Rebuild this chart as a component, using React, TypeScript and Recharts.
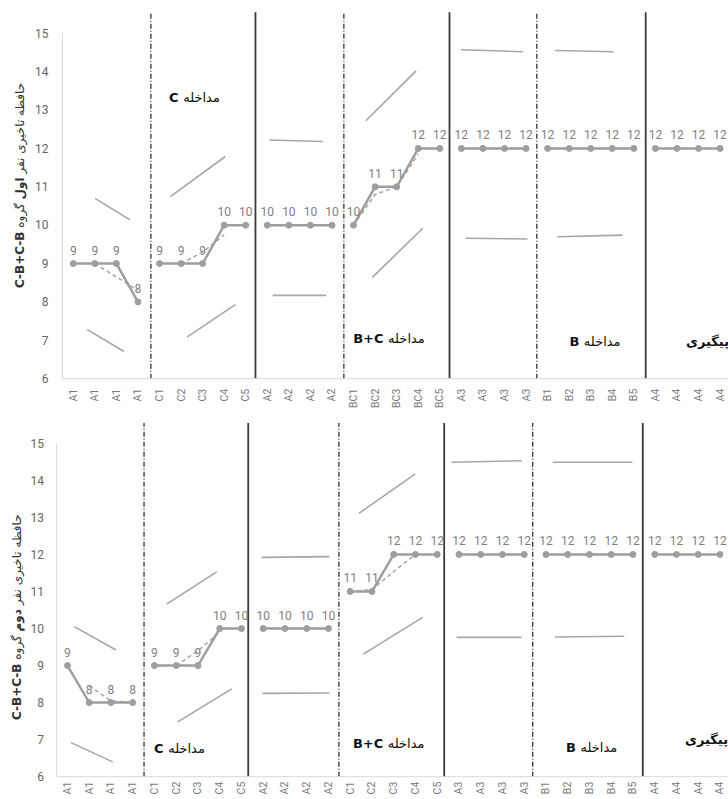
import React from "react";
import { LineChart, Line, XAxis, YAxis, ReferenceLine, LabelList } from "recharts";

// categories (x-axis tick labels)
const topCategories = [
  "A1", "A1", "A1", "A1", "C1", "C2", "C3", "C4", "C5", "A2", "A2", "A2", "A2",
  "BC1", "BC2", "BC3", "BC4", "BC5", "A3", "A3", "A3", "A3", "B1", "B2", "B3", "B4", "B5",
  "A4", "A4", "A4", "A4"
];
const bottomCategories = [
  "A1", "A1", "A1", "A1", "C1", "C2", "C3", "C4", "C5", "A2", "A2", "A2", "A2",
  "C1", "C2", "C3", "C4", "C5", "A3", "A3", "A3", "A3", "B1", "B2", "B3", "B4", "B5",
  "A4", "A4", "A4", "A4"
];

// observed scores
const topValues = [9, 9, 9, 8, 9, 9, 9, 10, 10, 10, 10, 10, 10, 10, 11, 11, 12, 12, 12, 12, 12, 12, 12, 12, 12, 12, 12, 12, 12, 12, 12];
const bottomValues = [9, 8, 8, 8, 9, 9, 9, 10, 10, 10, 10, 10, 10, 11, 11, 12, 12, 12, 12, 12, 12, 12, 12, 12, 12, 12, 12, 12, 12, 12, 12];

// dashed trend
const topTrend = [null, 9, 8.65, 8.3, null, 9, 9.3, 9.75, null, 10, 10, 10, 10, 10, 10.8, 11, 11.85, null, 12, 12, 12, 12, 12, 12, 12, 12, 12, null, null, null, null];
const bottomTrend = [null, 8.45, 8.05, 8, null, 9, 9.4, 9.9, null, 10, 10, 10, 10, 11, 11.05, 11.54, 12, null, 12, 12, 12, 12, 12, 12, 12, 12, 12, null, null, null, null];

// phase boundaries (category index where each phase starts)
const phaseStarts = [0, 4, 9, 13, 18, 22, 27, 31];

// phase change lines (x in category units), dash-dot / solid alternate
const topDividers = [3.6, 8.45, 12.55, 17.45, 21.5, 26.55];
const bottomDividers = [3.52, 8.31, 12.48, 17.32, 21.39, 26.45];

// stability envelope lines: [x1, y1, x2, y2]
const topEnvelopes: [number, number, number, number][] = [
  [1.01, 10.7, 2.63, 10.14],
  [0.65, 7.28, 2.35, 6.71],
  [4.52, 10.75, 7.05, 11.79],
  [5.29, 7.09, 7.52, 7.93],
  [9.1, 12.22, 11.57, 12.18],
  [9.25, 8.17, 11.73, 8.17],
  [13.57, 12.72, 15.9, 14.02],
  [13.87, 8.64, 16.21, 9.92],
  [17.98, 14.57, 20.85, 14.52],
  [18.19, 9.66, 21.07, 9.64],
  [22.35, 14.55, 25.06, 14.52],
  [22.46, 9.7, 25.48, 9.74]
];
const bottomEnvelopes: [number, number, number, number][] = [
  [0.31, 10.05, 2.23, 9.42],
  [0.16, 6.92, 2.08, 6.4],
  [4.56, 10.66, 6.86, 11.53],
  [5.07, 7.48, 7.55, 8.37],
  [8.93, 11.92, 12.04, 11.94],
  [8.97, 8.25, 12.04, 8.26],
  [13.4, 13.11, 15.98, 14.17],
  [13.6, 9.31, 16.33, 10.3],
  [17.66, 14.49, 20.88, 14.53],
  [17.89, 9.76, 20.88, 9.76],
  [22.31, 14.49, 25.97, 14.49],
  [22.41, 9.77, 25.6, 9.79]
];

const yTicks = [6, 7, 8, 9, 10, 11, 12, 13, 14, 15];
const xTicks = topCategories.map((_, i) => i);

const FONT = "Roboto, 'DejaVu Sans', sans-serif";
const FA_FONT = "'DejaVu Sans', Roboto, sans-serif";

type Row = { i: number; v: number; t: number | null };

function CategoryTick(props: any) {
  const { x, y, payload, labels } = props;
  return (
    <text
      x={x}
      y={y}
      transform={`rotate(-90 ${x} ${y})`}
      textAnchor="end"
      dominantBaseline="central"
      fontSize={10.5}
      fontFamily={FONT}
      fill="#7a7a7a"
    >
      {labels[payload.value]}
    </text>
  );
}

type PhaseLabel = { latin?: string; fa: string; x: number; y: number; anchor?: "start" | "middle" };

type PanelProps = {
  top: number;
  height: number;
  categories: string[];
  values: number[];
  trend: (number | null)[];
  dividers: number[];
  envelopes: [number, number, number, number][];
  yAxisWidth: number;
  step: number;
  marginTop: number;
  marginBottom: number;
  xAxisHeight: number;
  xTickMargin: number;
  yTickMargin: number;
  ordinal: string;
  titleX: number;
  titleBottom: number;
  labels: PhaseLabel[];
};

function Panel(p: PanelProps) {
  const rows: Row[] = p.categories.map((_, i) => ({ i, v: p.values[i], t: p.trend[i] }));
  const phases = phaseStarts.slice(0, -1).map((s, k) => rows.slice(s, phaseStarts[k + 1]));
  const W = 741;

  return (
    <div style={{ position: "absolute", left: 0, top: p.top, width: W, height: p.height }}>
      <LineChart
        width={W}
        height={p.height}
        data={rows}
        margin={{ top: p.marginTop, right: W - p.yAxisWidth - 31 * p.step, left: 0, bottom: p.marginBottom }}
      >
        <XAxis
          type="number"
          dataKey="i"
          domain={[-0.5, 30.5]}
          ticks={xTicks}
          interval={0}
          height={p.xAxisHeight}
          tickLine={false}
          tickSize={0}
          tickMargin={p.xTickMargin}
          axisLine={{ stroke: "#d9d9d9" }}
          tick={<CategoryTick labels={p.categories} />}
          allowDataOverflow
        />
        <YAxis
          type="number"
          domain={[6, 15]}
          ticks={yTicks}
          width={p.yAxisWidth}
          tickLine={false}
          tickSize={0}
          tickMargin={p.yTickMargin}
          axisLine={{ stroke: "#d9d9d9" }}
          tick={{ fontSize: 12, fill: "#666", fontFamily: FONT }}
          allowDataOverflow
        />
        {p.envelopes.map(([x1, y1, x2, y2], k) => (
          <ReferenceLine
            key={`env-${k}`}
            segment={[{ x: x1, y: y1 }, { x: x2, y: y2 }]}
            stroke="#a6a6a6"
            strokeWidth={1.6}
            ifOverflow="visible"
          />
        ))}
        {p.dividers.map((x, k) => (
          <ReferenceLine
            key={`div-${k}`}
            segment={[{ x, y: 6 }, { x, y: 15.55 }]}
            stroke={k % 2 === 0 ? "#222" : "#3a3a3a"}
            strokeWidth={k % 2 === 0 ? 1.2 : 1.8}
            strokeDasharray={k % 2 === 0 ? "5 2 1 2" : undefined}
            ifOverflow="visible"
          />
        ))}
        {phases.map((d, k) => (
          <Line
            key={`trend-${k}`}
            data={d}
            dataKey="t"
            stroke="#a6a6a6"
            strokeWidth={1.5}
            strokeDasharray="4 3"
            dot={false}
            activeDot={false}
            isAnimationActive={false}
          />
        ))}
        {phases.map((d, k) => (
          <Line
            key={`val-${k}`}
            data={d}
            dataKey="v"
            stroke="#9e9e9e"
            strokeWidth={2.5}
            dot={{ r: 3, fill: "#9e9e9e", stroke: "#9e9e9e", strokeWidth: 1 }}
            activeDot={false}
            isAnimationActive={false}
          >
            <LabelList dataKey="v" position="top" offset={9} fontSize={12} fill="#7f7f7f" fontFamily={FONT} />
          </Line>
        ))}
      </LineChart>
      <svg
        width={W}
        height={p.height}
        style={{ position: "absolute", left: 0, top: 0, pointerEvents: "none", overflow: "visible" }}
      >
        <text
          x={p.titleX}
          y={p.titleBottom}
          transform={`rotate(-90 ${p.titleX} ${p.titleBottom})`}
          textAnchor="start"
          dominantBaseline="central"
          fontSize={12}
          fontFamily={FA_FONT}
          fill="#333"
          direction="ltr"
        >
          <tspan fontWeight="bold">C-B+C-B</tspan>
          <tspan> حافظه تاخیری نفر </tspan>
          <tspan fontWeight="bold">{p.ordinal}</tspan>
          <tspan> گروه</tspan>
        </text>
        {p.labels.map((l, k) => (
          <text
            key={k}
            x={l.x}
            y={l.y}
            textAnchor={l.anchor === "start" ? "start" : "middle"}
            dominantBaseline="central"
            fontSize={13}
            fontFamily={FA_FONT}
            fill="#111"
            direction="ltr"
          >
            {l.latin ? <tspan fontWeight="bold">{l.latin} </tspan> : null}
            <tspan fontWeight={l.latin ? "normal" : "bold"}>{l.fa}</tspan>
          </text>
        ))}
      </svg>
    </div>
  );
}

export default function App() {
  return (
    <div
      style={{
        position: "absolute",
        left: 0,
        top: 0,
        width: 728,
        height: 799,
        overflow: "hidden",
        background: "#fff"
      }}
    >
      <Panel
        top={0}
        height={420}
        categories={topCategories}
        values={topValues}
        trend={topTrend}
        dividers={topDividers}
        envelopes={topEnvelopes}
        yAxisWidth={62.5}
        step={21.56}
        marginTop={33.3}
        marginBottom={20}
        xAxisHeight={21.3}
        xTickMargin={10}
        yTickMargin={14}
        ordinal="اول"
        titleX={20}
        titleBottom={288}
        labels={[
          { latin: "C", fa: "مداخله", x: 194.5, y: 97 },
          { latin: "B+C", fa: "مداخله", x: 389, y: 338 },
          { latin: "B", fa: "مداخله", x: 595, y: 341 },
          { fa: "پیگیری", x: 686, y: 341, anchor: "start" }
        ]}
      />
      <Panel
        top={400}
        height={400}
        categories={bottomCategories}
        values={bottomValues}
        trend={bottomTrend}
        dividers={bottomDividers}
        envelopes={bottomEnvelopes}
        yAxisWidth={56.6}
        step={21.75}
        marginTop={43.3}
        marginBottom={0}
        xAxisHeight={23.3}
        xTickMargin={5}
        yTickMargin={12.7}
        ordinal="دوم"
        titleX={17}
        titleBottom={320}
        labels={[
          { latin: "C", fa: "مداخله", x: 179.5, y: 348 },
          { latin: "B+C", fa: "مداخله", x: 388.7, y: 343 },
          { latin: "B", fa: "مداخله", x: 591.7, y: 347 },
          { fa: "پیگیری", x: 685, y: 339, anchor: "start" }
        ]}
      />
    </div>
  );
}
